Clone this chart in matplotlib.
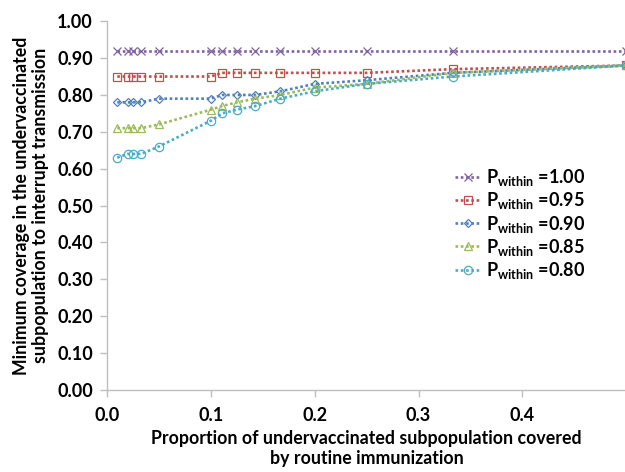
import matplotlib
matplotlib.use("Agg")
import matplotlib.pyplot as plt

plt.rcParams['font.family'] = ['Lato', 'DejaVu Sans']
plt.rcParams['font.weight'] = 'bold'
plt.rcParams['mathtext.fontset'] = 'custom'
plt.rcParams['mathtext.rm'] = 'Lato:bold'
plt.rcParams['mathtext.bf'] = 'Lato:bold'
plt.rcParams['mathtext.it'] = 'Lato:bold'

# proportion covered by routine immunization
x_vals = [0.01, 0.02, 0.025, 0.033, 0.05, 0.1, 0.111, 0.125, 0.143, 0.167, 0.2, 0.25, 0.333, 0.5]

p_labels = ['1.00', '0.95', '0.90', '0.85', '0.80']
cov_100 = [0.92, 0.92, 0.92, 0.92, 0.92, 0.92, 0.92, 0.92, 0.92, 0.92, 0.92, 0.92, 0.92, 0.92]
cov_095 = [0.85, 0.85, 0.85, 0.85, 0.85, 0.85, 0.86, 0.86, 0.86, 0.86, 0.86, 0.86, 0.87, 0.88]
cov_090 = [0.78, 0.78, 0.78, 0.78, 0.79, 0.79, 0.80, 0.80, 0.80, 0.81, 0.83, 0.84, 0.86, 0.88]
cov_085 = [0.71, 0.71, 0.71, 0.71, 0.72, 0.76, 0.77, 0.78, 0.79, 0.80, 0.82, 0.83, 0.86, 0.88]
cov_080 = [0.63, 0.64, 0.64, 0.64, 0.66, 0.73, 0.75, 0.76, 0.77, 0.79, 0.81, 0.83, 0.85, 0.88]
series = [cov_100, cov_095, cov_090, cov_085, cov_080]

colors = ['#8064A2', '#C0504D', '#4F81BD', '#9BBB59', '#4BACC6']
markers = ['x', 's', 'D', '^', 'o']
msizes = [5.5, 6, 4.5, 5.5, 6]

fig = plt.figure(figsize=(6.25, 4.72), dpi=100)
ax = fig.add_axes([0.171, 0.174, 0.831, 0.781])

for ys, lab, c, m, ms in zip(series, p_labels, colors, markers, msizes):
    ax.plot(x_vals, ys, linestyle=(0, (1, 1)), linewidth=1.9, color=c,
            marker=m, markersize=ms, markerfacecolor='none',
            markeredgecolor=c, markeredgewidth=0.9,
            label=r'$\mathbf{P_{within}}$ =' + lab)

ax.set_xlim(0, 0.5)
ax.set_ylim(0, 1.0)
ax.set_xticks([0.0, 0.1, 0.2, 0.3, 0.4])
ax.set_xticklabels(['0.0', '0.1', '0.2', '0.3', '0.4'])
ax.set_yticks([i / 10 for i in range(11)])
ax.set_yticklabels(['%.2f' % (i / 10) for i in range(11)])

for s in ['top', 'right']:
    ax.spines[s].set_visible(False)
for s in ['left', 'bottom']:
    ax.spines[s].set_color('#BFBFBF')
    ax.spines[s].set_linewidth(1.0)
ax.tick_params(axis='both', direction='out', length=5, width=1.0,
               color='#BFBFBF', labelsize=13, pad=5)
ax.tick_params(axis='x', pad=7)

ax.set_xlabel('Proportion of undervaccinated subpopulation covered\nby routine immunization',
              fontsize=12.8, fontweight='bold', labelpad=5, linespacing=1.15)
ax.set_ylabel('Minimum coverage in the undervaccinated\nsubpopulation to interrupt transmission',
              fontsize=12.8, fontweight='bold', labelpad=6, linespacing=1.15)

leg = ax.legend(loc='upper left', bbox_to_anchor=(448 / 625, 1 - 160 / 472),
                bbox_transform=fig.transFigure, frameon=False, fontsize=13,
                handlelength=1.4, handletextpad=0.3, labelspacing=0.12,
                borderaxespad=0)

fig.savefig('out.png', dpi=100)
